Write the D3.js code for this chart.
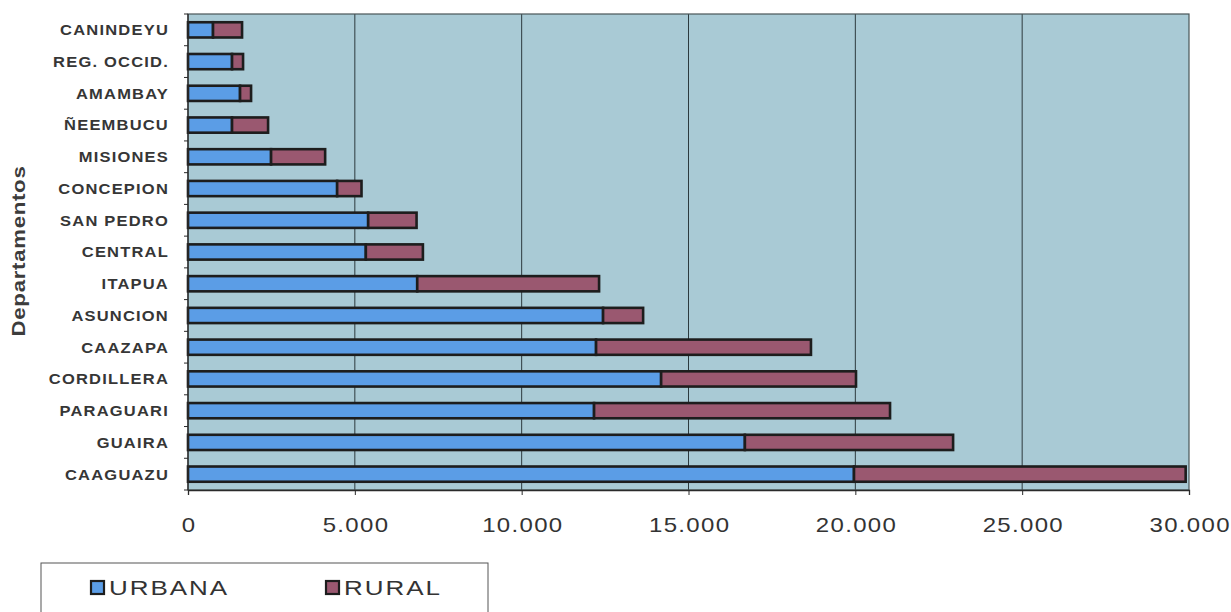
<!DOCTYPE html>
<html>
<head>
<meta charset="utf-8">
<script src="https://cdn.jsdelivr.net/npm/d3@7"></script>
<style>
  html, body { margin: 0; padding: 0; background: #ffffff; }
  svg { display: block; }
</style>
</head>
<body>
<svg id="chart" width="1231" height="612"></svg>
<script>
// Departamentos, listed top to bottom
const departamentos = [
  "CANINDEYU", "REG. OCCID.", "AMAMBAY", "ÑEEMBUCU", "MISIONES",
  "CONCEPION", "SAN PEDRO", "CENTRAL", "ITAPUA", "ASUNCION",
  "CAAZAPA", "CORDILLERA", "PARAGUARI", "GUAIRA", "CAAGUAZU"
];
// Urban and rural counts per departamento
const urbana = [750, 1320, 1560, 1320, 2490, 4470, 5400, 5330, 6870, 12440, 12230, 14180, 12170, 16690, 19960];
const rural  = [870, 330, 330, 1080, 1620, 730, 1450, 1710, 5450, 1200, 6440, 5840, 8870, 6240, 9940];
const xTicks = [0, 5000, 10000, 15000, 20000, 25000, 30000];
const seriesNames = ["URBANA", "RURAL"];
const seriesColors = ["#5b9de6", "#9a5870"];

const svg = d3.select("#chart");
const plotL = 188, plotR = 1189, plotT = 14, plotB = 490;
const sans = "'Liberation Sans', Arial, sans-serif";

const x = d3.scaleLinear().domain([0, 30000]).range([plotL, plotR]);
const y = d3.scaleBand().domain(departamentos).range([plotT, plotB]).paddingInner(0.52).paddingOuter(0.26);
const yOuter = d3.scaleBand().domain(departamentos).range([plotT, plotB]);

// Plot area background
svg.append("rect")
  .attr("x", plotL).attr("y", plotT)
  .attr("width", plotR - plotL).attr("height", plotB - plotT)
  .attr("fill", "#a9cad5");

// Vertical gridlines
svg.append("g")
  .selectAll("line")
  .data(xTicks.slice(1, -1))
  .join("line")
  .attr("x1", d => x(d)).attr("x2", d => x(d))
  .attr("y1", plotT).attr("y2", plotB)
  .attr("stroke", "#2c3a3e").attr("stroke-width", 1);

// Plot border
svg.append("rect")
  .attr("x", plotL).attr("y", plotT)
  .attr("width", plotR - plotL).attr("height", plotB - plotT)
  .attr("fill", "none").attr("stroke", "#4a5558").attr("stroke-width", 1.2);

// Stacked bars
const rows = departamentos.map((d, i) => ({ name: d, u: urbana[i], r: rural[i] }));
const barG = svg.append("g");
rows.forEach(row => {
  const segs = [
    { x0: 0, x1: row.u, c: seriesColors[0] },
    { x0: row.u, x1: row.u + row.r, c: seriesColors[1] }
  ];
  segs.forEach(s => {
    barG.append("rect")
      .attr("x", x(s.x0)).attr("y", y(row.name))
      .attr("width", x(s.x1) - x(s.x0)).attr("height", y.bandwidth())
      .attr("fill", s.c)
      .attr("stroke", "#1d1d1d").attr("stroke-width", 2.6);
  });
});

// X axis (labels slightly widened)
const tickSpacing = 1.1;
const xAxis = d3.axisBottom(x)
  .tickValues(xTicks)
  .tickSize(5)
  .tickFormat(d => d3.format(",")(d).replace(/,/g, "."));
const gx = svg.append("g").attr("transform", `translate(0,${plotB})`).call(xAxis);
gx.select(".domain").attr("stroke", "#2a2a2a").attr("stroke-width", 1.3);
gx.selectAll(".tick line").attr("stroke", "#2a2a2a");
gx.selectAll(".tick text")
  .attr("y", 42)
  .attr("dy", 0)
  .attr("dx", tickSpacing / 2)
  .attr("transform", "scale(1.2,1)")
  .attr("font-family", sans)
  .attr("font-size", 20)
  .attr("letter-spacing", tickSpacing)
  .attr("fill", "#333333");

// Y axis: ticks at category boundaries, labels centred on bars
const gy = svg.append("g").attr("transform", `translate(${plotL},0)`);
gy.append("line").attr("x1", 0).attr("x2", 0).attr("y1", plotT).attr("y2", plotB)
  .attr("stroke", "#2a2a2a").attr("stroke-width", 1.3);
gy.selectAll("line.tk")
  .data(departamentos.concat(["__end"]))
  .join("line").attr("class", "tk")
  .attr("x1", -4).attr("x2", 0)
  .attr("y1", (d, i) => plotT + i * yOuter.step())
  .attr("y2", (d, i) => plotT + i * yOuter.step())
  .attr("stroke", "#2a2a2a");
gy.selectAll("text")
  .data(departamentos)
  .join("text")
  .attr("transform", d => `translate(-19,${y(d) + y.bandwidth() / 2}) scale(1.1,1)`)
  .attr("dy", "0.36em")
  .attr("text-anchor", "end")
  .attr("font-family", sans)
  .attr("font-weight", "bold")
  .attr("font-size", 15)
  .attr("letter-spacing", 1.1)
  .attr("fill", "#363636")
  .text(d => d);

// Y axis title
svg.append("text")
  .attr("transform", `translate(25,251) rotate(-90) scale(1.2,1)`)
  .attr("text-anchor", "middle")
  .attr("font-family", sans)
  .attr("font-weight", "bold")
  .attr("font-size", 18.5)
  .attr("letter-spacing", 0.6)
  .attr("fill", "#3c3c3c")
  .text("Departamentos");

// Legend
const lg = svg.append("g");
lg.append("rect")
  .attr("x", 41).attr("y", 563).attr("width", 447).attr("height", 60)
  .attr("fill", "#ffffff").attr("stroke", "#555555").attr("stroke-width", 1);
const legendX = [91, 326];
seriesNames.forEach((name, i) => {
  lg.append("rect")
    .attr("x", legendX[i]).attr("y", 581).attr("width", 13).attr("height", 13)
    .attr("fill", seriesColors[i]).attr("stroke", "#1d1d1d").attr("stroke-width", 2.2);
  lg.append("text")
    .attr("transform", `translate(${legendX[i] + 18},595) scale(1.3,1)`)
    .attr("font-family", sans)
    .attr("font-size", 20)
    .attr("letter-spacing", 1.5)
    .attr("fill", "#333333")
    .text(name);
});
</script>
</body>
</html>
